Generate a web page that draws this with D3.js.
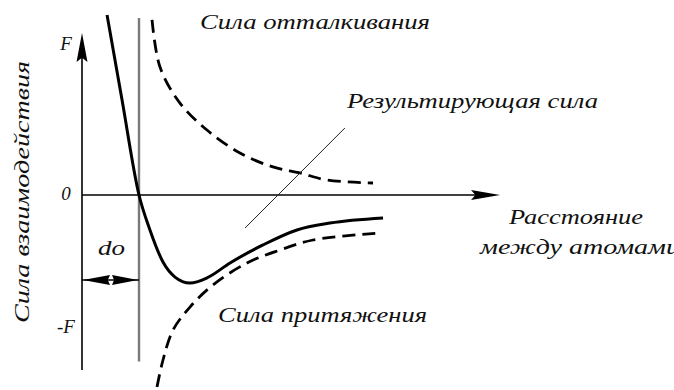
<!DOCTYPE html>
<html>
<head>
<meta charset="utf-8">
<script src="https://cdn.jsdelivr.net/npm/d3@7"></script>
<style>
  html, body { margin: 0; padding: 0; background: #fff; }
  svg { display: block; }
  text { font-family: "Liberation Serif", serif; font-style: italic; fill: #111; }
</style>
</head>
<body>
<svg id="chart" width="674" height="390"></svg>
<script>
// ---- data (schematic units: distance, force) ----
const resultantX = [1.67, 2.67, 3.8, 4.53, 5.4, 6.2, 7.2, 8.33, 9.87, 12.07, 14.33, 16.53, 20.07];
const resultantY = [12.0, 6.33, 0, -2.33, -4.47, -5.47, -5.87, -5.53, -4.53, -3.33, -2.33, -1.87, -1.53];
const repulsionX = [4.67, 5.2, 6.53, 8.33, 10.53, 12.73, 14.53, 16.33, 19.4];
const repulsionY = [11.67, 8.53, 6.13, 4.33, 2.8, 1.87, 1.47, 1.0, 0.8];
const attractionX = [5.0, 5.4, 6.07, 7.2, 8.73, 11.0, 13.2, 15.4, 19.87];
const attractionY = [-12.8, -11.0, -9.0, -7.47, -6.0, -4.53, -3.67, -3.0, -2.53];
const d0 = 3.8;
const yTickValues = [10, 0, -8.8];
const yTickLabels = ["F", "0", "-F"];
const pointerX = [10.87, 17.53];
const pointerY = [-2.2, 4.47];

const svg = d3.select("#chart");
const x = d3.scaleLinear().domain([0, 28]).range([82, 502]);
const y = d3.scaleLinear().domain([-13, 12]).range([390, 15]);

const zip = (xs, ys) => xs.map((v, i) => [v, ys[i]]);
const line = d3.line().x(d => x(d[0])).y(d => y(d[1])).curve(d3.curveCatmullRom.alpha(0.5));
const smooth = d3.line().x(d => x(d[0])).y(d => y(d[1])).curve(d3.curveMonotoneX);

// d0 vertical line (grey)
svg.append("line")
  .attr("x1", x(d0)).attr("x2", x(d0))
  .attr("y1", y(11.8)).attr("y2", y(-11.1))
  .attr("stroke", "#7a7a7a").attr("stroke-width", 2.4);

// axes
svg.append("line")
  .attr("x1", x(0)).attr("x2", x(0))
  .attr("y1", y(-11.67)).attr("y2", y(10))
  .attr("stroke", "#000").attr("stroke-width", 1.6);
svg.append("line")
  .attr("x1", x(0)).attr("x2", x(26.5))
  .attr("y1", y(0)).attr("y2", y(0))
  .attr("stroke", "#000").attr("stroke-width", 1.6);

// arrowheads
function arrowHead(tx, ty, dx, dy, len, hw, notch) {
  const bx = tx - dx * len, by = ty - dy * len;
  const px = -dy, py = dx;
  const mx = tx - dx * len * notch, my = ty - dy * len * notch;
  svg.append("path")
    .attr("d", `M${tx},${ty} L${bx + px * hw},${by + py * hw} L${mx},${my} L${bx - px * hw},${by - py * hw} Z`)
    .attr("fill", "#000");
}
arrowHead(x(0), y(10.8), 0, -1, 29, 5.5, 0.85);
arrowHead(x(27.87), y(0), 1, 0, 29, 5, 0.85);
// d0 double arrow
const yArr = y(-5.67);
svg.append("line").attr("x1", x(0)).attr("x2", x(d0)).attr("y1", yArr).attr("y2", yArr)
  .attr("stroke", "#000").attr("stroke-width", 1.4);
arrowHead(x(0) + 1, yArr, -1, 0, 27, 5, 0.92);
arrowHead(x(d0) - 1, yArr, 1, 0, 26, 5, 0.92);

// curves
svg.append("path").attr("d", line(zip(repulsionX, repulsionY)))
  .attr("fill", "none").attr("stroke", "#000").attr("stroke-width", 2.8)
  .attr("stroke-dasharray", "13,7");
svg.append("path").attr("d", line(zip(attractionX, attractionY)))
  .attr("fill", "none").attr("stroke", "#000").attr("stroke-width", 2.8)
  .attr("stroke-dasharray", "13,7");
svg.append("path").attr("d", smooth(zip(resultantX, resultantY)))
  .attr("fill", "none").attr("stroke", "#000").attr("stroke-width", 3);

// pointer line
svg.append("line")
  .attr("x1", x(pointerX[0])).attr("y1", y(pointerY[0]))
  .attr("x2", x(pointerX[1])).attr("y2", y(pointerY[1]))
  .attr("stroke", "#222").attr("stroke-width", 1);

// tick labels
const tickX = [66, 66, 66];
const tickDy = [5, 5, 6];
yTickLabels.forEach((t, i) => {
  svg.append("text").attr("x", tickX[i]).attr("y", y(yTickValues[i]) + tickDy[i])
    .attr("text-anchor", "middle").attr("font-size", 19).text(t);
});

// texts
function label(str, x0, base, len, size) {
  svg.append("text").attr("x", x0).attr("y", base).attr("font-size", size)
    .attr("textLength", len).attr("lengthAdjust", "spacingAndGlyphs").text(str);
}
label("Сила отталкивания", 200, 29, 230, 21);
label("Результирующая сила", 347, 108, 251, 21);
label("Расстояние", 509, 224, 134, 21);
label("между атомами", 480, 254, 200, 21);
label("Сила притяжения", 218, 322, 209, 21);
label("do", 98, 255, 27, 20);

svg.append("text")
  .attr("transform", "translate(29,192) rotate(-90)")
  .attr("text-anchor", "middle").attr("font-size", 21)
  .attr("textLength", 262).attr("lengthAdjust", "spacingAndGlyphs")
  .text("Сила взаимодействия");
</script>
</body>
</html>
